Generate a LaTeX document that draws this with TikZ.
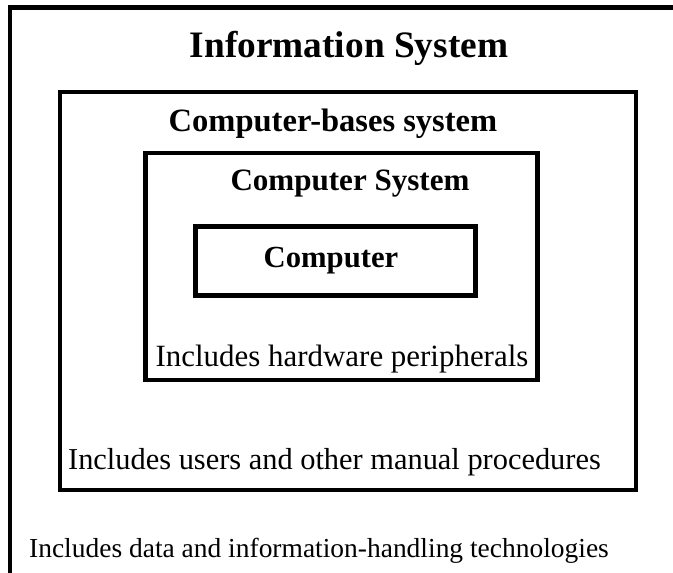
\documentclass[tikz,border=0pt]{standalone}
\usepackage{fontspec}
\setmainfont{Liberation Serif}
\usepackage{tikz}

\begin{document}
\begin{tikzpicture}[x=0.75pt,y=-0.75pt,
  box/.style={draw,line width=3.3pt,inner sep=0pt},
  head/.style={font=\bfseries\fontsize{#1}{#1}\selectfont,inner sep=0pt},
  note/.style={font=\fontsize{#1}{#1}\selectfont,inner sep=0pt}]
	\useasboundingbox (0,0) rectangle (673,573);
	% outer frame, cut off at right and bottom
	\coordinate (os) at (10,600);
	\coordinate (on) at (10,7.5);
	\coordinate (oe) at (700,7.5);
	\draw[line width=3.3pt] (os) -- (on) -- (oe);

	\node[box,minimum width=432pt,minimum height=298.5pt] (cbs) at (348,291) {};
	\node[box,minimum width=294pt,minimum height=170.25pt] (cs) at (341.5,266.5) {};
	\node[box,minimum width=210pt,minimum height=51.75pt] (comp) at (335.5,261) {};

	\node[head=28] (is) at (349,48) {Information System};
	\node[head=24.4] (cbst) at (333,124) {Computer-bases system};
	\node[head=23.3] (cst) at (350,184) {Computer System};
	\node[head=23] (compt) at (331,261) {Computer};

	\node[note=23.2] (hw) at (342,359) {Includes hardware peripherals};
	\node[note=22.8] (usr) at (334.5,462) {Includes users and other manual procedures};
	\node[note=20.6] (dat) at (319,551) {Includes data and information-handling technologies};
\end{tikzpicture}
\end{document}
